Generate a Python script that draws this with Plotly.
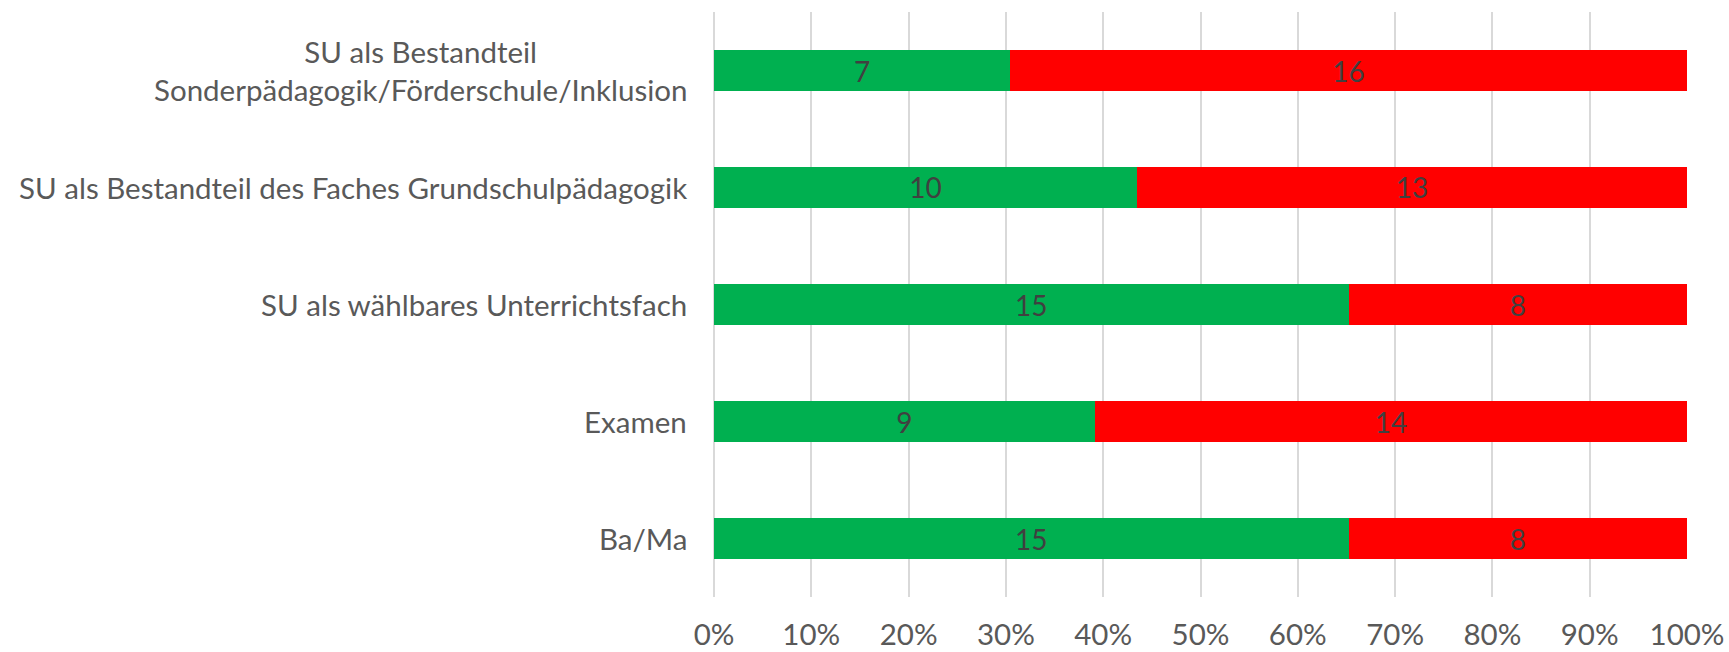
import plotly.graph_objects as go

categories = [
    "Ba/Ma",
    "Examen",
    "SU als wählbares Unterrichtsfach",
    "SU als Bestandteil des Faches Grundschulpädagogik",
    "SU als Bestandteil<br>Sonderpädagogik/Förderschule/Inklusion",
]
green_values = [15, 9, 15, 10, 7]
red_values = [8, 14, 8, 13, 16]
x_ticks = [0, 10, 20, 30, 40, 50, 60, 70, 80, 90, 100]
x_tick_labels = [f"{v}%" for v in x_ticks]

FONT = "Lato, 'Open Sans', sans-serif"
FS = 29.5

fig = go.Figure()
for vals, color, name in [(green_values, "#00B050", "ja"), (red_values, "#FF0000", "nein")]:
    fig.add_trace(go.Bar(
        y=categories, x=vals, orientation="h",
        marker=dict(color=color, line=dict(width=0)),
        text=vals, texttemplate="%{text}",
        textposition="inside", insidetextanchor="middle",
        textangle=0, constraintext="none",
        textfont=dict(family=FONT, size=28, color="#404040"),
        name=name,
    ))

for c in categories:
    fig.add_annotation(
        x=-0.026, xref="paper", y=c, yref="y",
        text=c, showarrow=False, xanchor="right", yanchor="middle",
        align="center",
        font=dict(family=FONT, size=FS, color="#595959"),
    )

fig.update_layout(
    width=1729, height=652,
    barmode="stack", barnorm="percent", bargap=0.65,
    showlegend=False,
    plot_bgcolor="white", paper_bgcolor="white",
    margin=dict(l=714, r=42, t=12, b=55, autoexpand=False),
    font=dict(family=FONT, size=FS, color="#595959"),
)
fig.update_xaxes(
    range=[0, 100], tickvals=x_ticks, ticktext=x_tick_labels,
    showgrid=True, gridcolor="#D9D9D9", gridwidth=2,
    zeroline=True, zerolinecolor="#D9D9D9", zerolinewidth=2,
    showline=False, ticks="", ticklabelstandoff=17,
    ticklabeloverflow="allow", automargin=False,
    tickfont=dict(family=FONT, size=FS, color="#595959"),
    fixedrange=True,
)
fig.update_yaxes(
    showticklabels=False, showgrid=False, zeroline=False, showline=False,
    ticks="", fixedrange=True, automargin=False,
)

fig.write_html(
    "out.html",
    config={"displayModeBar": False},
    post_script="document.body.style.margin='0';document.body.style.overflow='hidden';",
)
